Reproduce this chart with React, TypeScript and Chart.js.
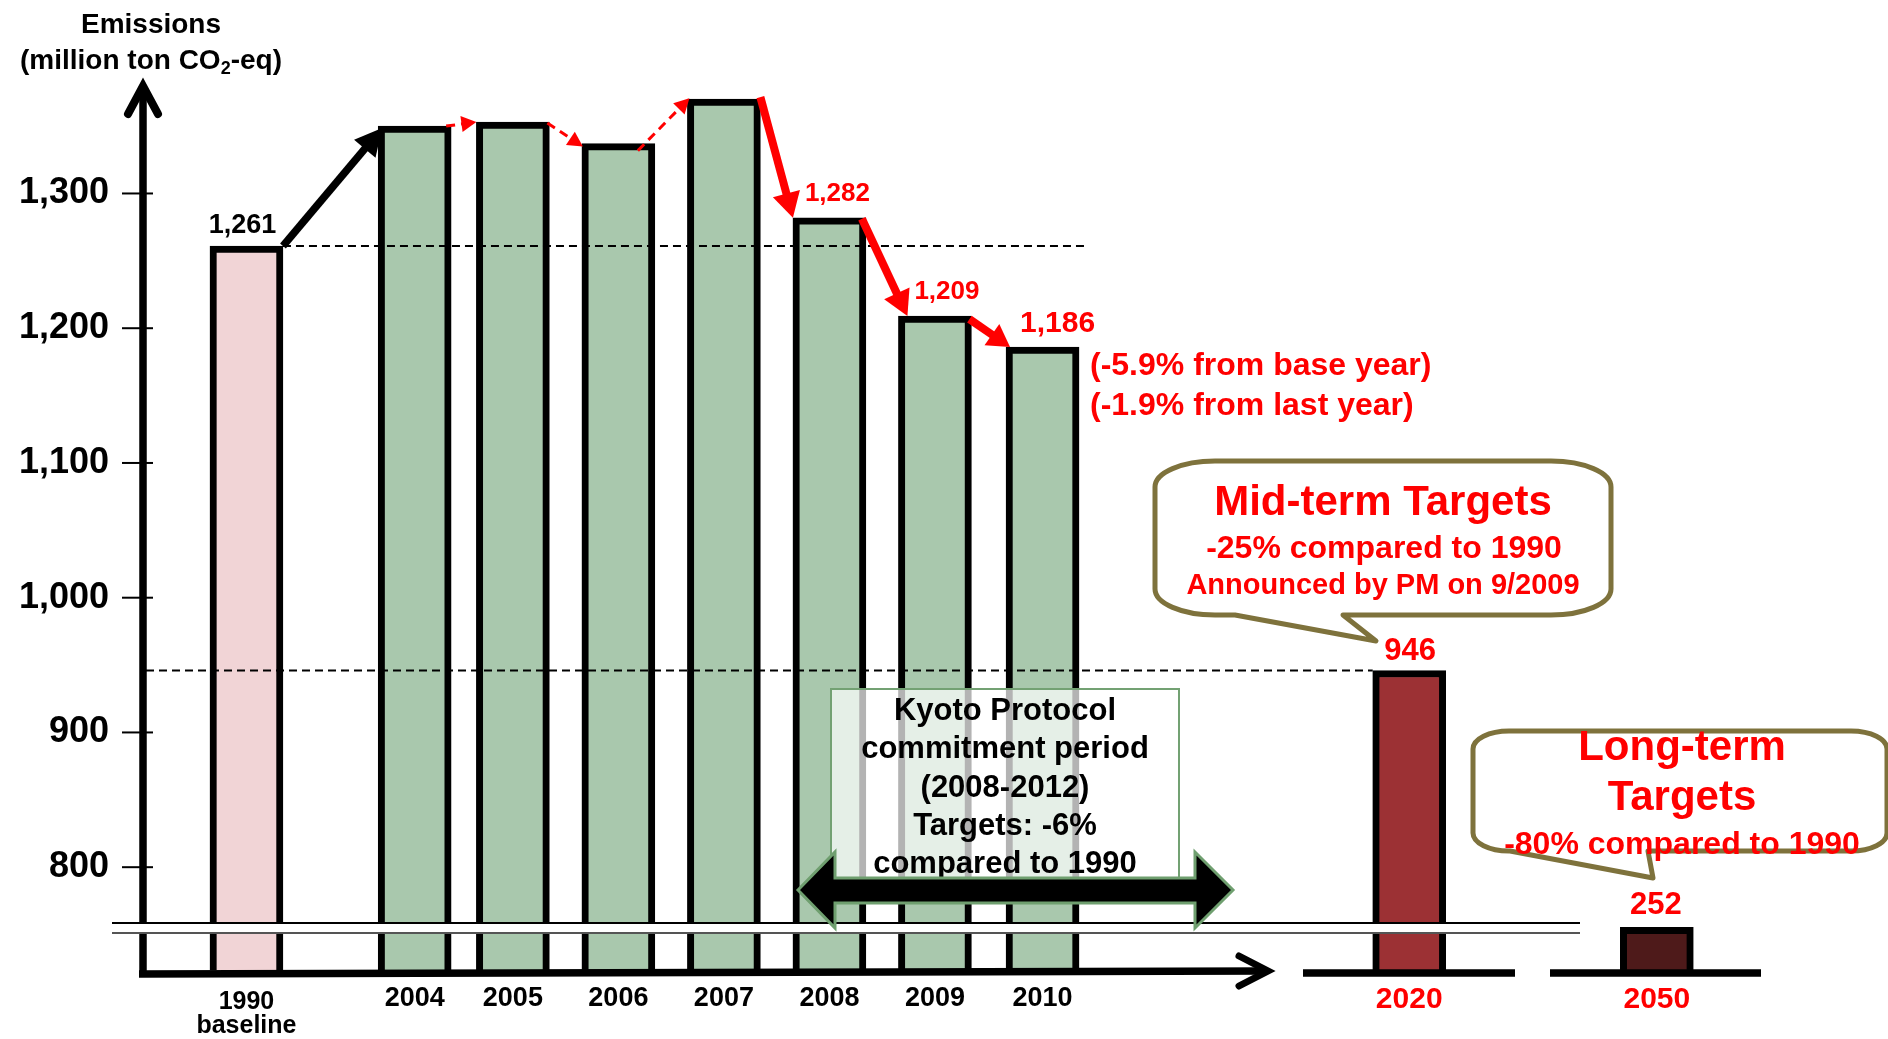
import React, { useEffect, useRef } from 'react';
import { Chart, registerables } from 'chart.js';

Chart.register(...registerables);

// ---------- data ----------
const categories = ['1990', '2004', '2005', '2006', '2007', '2008', '2009', '2010', '2020', '2050'];
const categoryLabels: (string | string[])[] = [
  ['1990', 'baseline'], '2004', '2005', '2006', '2007', '2008', '2009', '2010', '2020', '2050',
];
const emissions = [1261, 1350, 1353, 1337, 1370, 1282, 1209, 1186, 946, 252];
const yTicks = [800, 900, 1000, 1100, 1200, 1300];
const valueLabels = ['1,261', '', '', '', '', '1,282', '1,209', '1,186', '946', '252'];
const noteLines = ['(-5.9% from base year)', '(-1.9% from last year)'];
const midTermLines = ['Mid-term Targets', '-25% compared to 1990', 'Announced by PM on 9/2009'];
const longTermLines = ['Long-term', 'Targets', '-80% compared to 1990'];
const kyotoLines = ['Kyoto Protocol', 'commitment period', '(2008-2012)', 'Targets: -6%', 'compared to 1990'];

// ---------- layout / style ----------
const W = 1888;
const H = 1039;
const xSlots = [1.0, 2.61, 3.55, 4.56, 5.57, 6.58, 7.59, 8.62, 12.13, 14.5];
const X_MAX = 16.33;
const Y_MIN = 723.7;
const Y_MAX = 1380.5;
const BELOW_BREAK_SCALE = 0.126; // values under the axis break are compressed
const plotValue = (v: number) => (v < 700 ? Y_MIN + v * BELOW_BREAK_SCALE : v);

const RED = '#FF0000';
const PINK = '#F1D4D6';
const GREEN = '#A9C8AD';
const barColors = [PINK, GREEN, GREEN, GREEN, GREEN, GREEN, GREEN, GREEN, '#9C3134', '#4E1A1A'];
const OLIVE = '#7E723C';
const FONT = '"Liberation Sans", Arial, Helvetica, sans-serif';
const f = (size: number) => `bold ${size}px ${FONT}`;

function txt(ctx: CanvasRenderingContext2D, s: string, x: number, y: number, size: number, color: string, align: CanvasTextAlign = 'center') {
  ctx.font = f(size);
  ctx.fillStyle = color;
  ctx.textAlign = align;
  ctx.textBaseline = 'middle';
  ctx.fillText(s, x, y);
}

function arrow(ctx: CanvasRenderingContext2D, x1: number, y1: number, x2: number, y2: number, color: string, lw: number, hl: number, hw: number, dash?: number[]) {
  const a = Math.atan2(y2 - y1, x2 - x1);
  const bx = x2 - hl * Math.cos(a);
  const by = y2 - hl * Math.sin(a);
  ctx.save();
  ctx.strokeStyle = color;
  ctx.lineWidth = lw;
  ctx.lineCap = 'butt';
  if (dash) ctx.setLineDash(dash);
  ctx.beginPath();
  ctx.moveTo(x1, y1);
  ctx.lineTo(bx + 2 * Math.cos(a), by + 2 * Math.sin(a));
  ctx.stroke();
  ctx.setLineDash([]);
  ctx.fillStyle = color;
  ctx.beginPath();
  ctx.moveTo(x2, y2);
  ctx.lineTo(bx + hw * Math.sin(a), by - hw * Math.cos(a));
  ctx.lineTo(bx - hw * Math.sin(a), by + hw * Math.cos(a));
  ctx.closePath();
  ctx.fill();
  ctx.restore();
}

function callout(ctx: CanvasRenderingContext2D, L: number, T: number, R: number, B: number, rx: number, ry: number, tailL: number, tailR: number, tipX: number, tipY: number) {
  ctx.save();
  ctx.beginPath();
  ctx.moveTo(L + rx, T);
  ctx.lineTo(R - rx, T);
  ctx.ellipse(R - rx, T + ry, rx, ry, 0, -Math.PI / 2, 0);
  ctx.lineTo(R, B - ry);
  ctx.ellipse(R - rx, B - ry, rx, ry, 0, 0, Math.PI / 2);
  ctx.lineTo(tailR, B);
  ctx.lineTo(tipX, tipY);
  ctx.lineTo(tailL, B);
  ctx.lineTo(L + rx, B);
  ctx.ellipse(L + rx, B - ry, rx, ry, 0, Math.PI / 2, Math.PI);
  ctx.lineTo(L, T + ry);
  ctx.ellipse(L + rx, T + ry, rx, ry, 0, Math.PI, Math.PI * 1.5);
  ctx.closePath();
  ctx.fillStyle = '#FFFFFF';
  ctx.fill();
  ctx.strokeStyle = OLIVE;
  ctx.lineWidth = 5;
  ctx.lineJoin = 'round';
  ctx.stroke();
  ctx.restore();
}

const annotationPlugin = {
  id: 'annotations',
  afterDatasetsDraw(chart: any) {
    const ctx: CanvasRenderingContext2D = chart.ctx;
    const ys = chart.scales.y;
    const meta = chart.getDatasetMeta(0);
    const b = meta.data.map((el: any) => {
      const p = el.getProps(['x', 'y', 'width'], true);
      return { x: p.x, y: p.y, l: p.x - p.width / 2, r: p.x + p.width / 2 };
    });

    ctx.save();
    // dashed reference lines
    ctx.strokeStyle = '#000';
    ctx.lineWidth = 2;
    ctx.setLineDash([8, 5]);
    const y1990 = ys.getPixelForValue(emissions[0]);
    ctx.beginPath();
    ctx.moveTo(b[0].r, y1990);
    ctx.lineTo(1086, y1990);
    ctx.stroke();
    const y2020 = ys.getPixelForValue(emissions[8]);
    ctx.beginPath();
    ctx.moveTo(146, y2020);
    ctx.lineTo(b[8].l, y2020);
    ctx.stroke();
    ctx.setLineDash([]);
    ctx.restore();

    // trend arrows
    arrow(ctx, b[0].r, b[0].y, b[1].l + 4, b[1].y + 2, '#000', 7.5, 27, 14);
    arrow(ctx, b[1].r - 5, b[1].y, b[2].l, b[2].y, RED, 3, 15, 8, [9, 6]);
    arrow(ctx, b[2].r - 2, b[2].y + 1, b[3].l + 1, b[3].y + 3, RED, 3, 15, 8, [9, 6]);
    arrow(ctx, b[3].r - 17, b[3].y + 7, b[4].l + 2, b[4].y - 1, RED, 3, 15, 8, [9, 6]);
    arrow(ctx, b[4].r, b[4].y - 2, b[5].l, b[5].y, RED, 8, 25, 14);
    arrow(ctx, b[5].r - 4, b[5].y + 1, b[6].l + 9, b[6].y, RED, 8, 25, 14);
    arrow(ctx, b[6].r - 2, b[6].y + 3, b[7].l + 4, b[7].y, RED, 8, 22, 13);

    // value labels
    const lab = [
      { i: 0, dx: -4, dy: 20, s: 27, c: '#000' },
      { i: 5, dx: 8, dy: 24, s: 26, c: RED },
      { i: 6, dx: 12, dy: 24, s: 26, c: RED },
      { i: 7, dx: 15, dy: 23, s: 30, c: RED },
      { i: 8, dx: 1, dy: 19, s: 31, c: RED },
      { i: 9, dx: -1, dy: 22, s: 31, c: RED },
    ];
    lab.forEach((o) => txt(ctx, valueLabels[o.i], b[o.i].x + o.dx, b[o.i].y - o.dy, o.s, o.c));

    // notes next to 2010
    txt(ctx, noteLines[0], 1090, 366, 32, RED, 'left');
    txt(ctx, noteLines[1], 1090, 406, 32, RED, 'left');

    // y axis line + arrow + ticks
    ctx.save();
    ctx.strokeStyle = '#000';
    ctx.lineWidth = 7.5;
    ctx.lineCap = 'butt';
    ctx.beginPath();
    ctx.moveTo(143, 88);
    ctx.lineTo(143, 977);
    ctx.stroke();
    ctx.lineCap = 'round';
    ctx.lineJoin = 'miter';
    ctx.lineWidth = 8;
    ctx.beginPath();
    ctx.moveTo(128, 114);
    ctx.lineTo(143, 86);
    ctx.lineTo(158, 114);
    ctx.stroke();
    ctx.lineWidth = 2;
    ctx.lineCap = 'butt';
    yTicks.forEach((v) => {
      const y = ys.getPixelForValue(v);
      ctx.beginPath();
      ctx.moveTo(122, y);
      ctx.lineTo(153, y);
      ctx.stroke();
    });
    // baseline + arrow
    ctx.lineWidth = 7.5;
    ctx.beginPath();
    ctx.moveTo(139, 974);
    ctx.lineTo(1266, 971);
    ctx.stroke();
    ctx.lineCap = 'round';
    ctx.lineWidth = 7;
    ctx.beginPath();
    ctx.moveTo(1239, 956);
    ctx.lineTo(1268, 971);
    ctx.lineTo(1239, 986);
    ctx.stroke();
    ctx.lineCap = 'butt';
    ctx.lineWidth = 7.5;
    ctx.beginPath();
    ctx.moveTo(1303, 973);
    ctx.lineTo(1515, 973);
    ctx.moveTo(1550, 973);
    ctx.lineTo(1761, 973);
    ctx.stroke();
    ctx.restore();

    // axis break band (interrupts the y axis and the bars)
    ctx.save();
    ctx.fillStyle = '#FFFFFF';
    ctx.fillRect(112, 923, 1580 - 112, 10);
    ctx.lineWidth = 2.2;
    ctx.strokeStyle = '#000';
    ctx.beginPath();
    ctx.moveTo(112, 923);
    ctx.lineTo(1580, 923);
    ctx.stroke();
    ctx.strokeStyle = '#555';
    ctx.lineWidth = 2;
    ctx.beginPath();
    ctx.moveTo(112, 933);
    ctx.lineTo(1580, 933);
    ctx.stroke();
    ctx.restore();

    // Kyoto box
    ctx.save();
    ctx.fillStyle = 'rgba(255,255,255,0.7)';
    ctx.fillRect(831, 689, 1179 - 831, 890 - 689);
    ctx.strokeStyle = '#73A173';
    ctx.lineWidth = 2;
    ctx.strokeRect(831, 689, 1179 - 831, 890 - 689);
    ctx.restore();
    const ky = [711, 749, 788, 826, 864];
    kyotoLines.forEach((s, i) => txt(ctx, s, 1005, ky[i], 31, '#000'));

    // double arrow
    ctx.save();
    ctx.beginPath();
    ctx.moveTo(798, 890);
    ctx.lineTo(835, 852);
    ctx.lineTo(835, 878);
    ctx.lineTo(1195, 878);
    ctx.lineTo(1195, 852);
    ctx.lineTo(1233, 890);
    ctx.lineTo(1195, 928);
    ctx.lineTo(1195, 903);
    ctx.lineTo(835, 903);
    ctx.lineTo(835, 928);
    ctx.closePath();
    ctx.fillStyle = '#000';
    ctx.fill();
    ctx.strokeStyle = '#6F9F6F';
    ctx.lineWidth = 3;
    ctx.stroke();
    ctx.restore();

    // callouts
    callout(ctx, 1155, 461, 1611, 615, 60, 26, 1235, 1343, 1376, 641);
    txt(ctx, midTermLines[0], 1383, 503, 42, RED);
    txt(ctx, midTermLines[1], 1384, 549, 32, RED);
    txt(ctx, midTermLines[2], 1383, 586, 29, RED);

    callout(ctx, 1473, 731, 1887, 851, 36, 18, 1510, 1648, 1653, 878);
    txt(ctx, longTermLines[0], 1682, 748, 42, RED);
    txt(ctx, longTermLines[1], 1682, 798, 42, RED);
    txt(ctx, longTermLines[2], 1682, 845, 32, RED);

    // axis title
    txt(ctx, 'Emissions', 151, 25, 28, '#000');
    ctx.save();
    const p1 = '(million ton CO';
    const p2 = '2';
    const p3 = '-eq)';
    ctx.font = f(28);
    const w1 = ctx.measureText(p1).width;
    const w3 = ctx.measureText(p3).width;
    ctx.font = f(18);
    const w2 = ctx.measureText(p2).width;
    const start = 151 - (w1 + w2 + w3) / 2;
    txt(ctx, p1, start, 61, 28, '#000', 'left');
    txt(ctx, p2, start + w1, 69, 18, '#000', 'left');
    txt(ctx, p3, start + w1 + w2, 61, 28, '#000', 'left');
    ctx.restore();
  },
};

export default function App() {
  const ref = useRef<HTMLCanvasElement | null>(null);

  useEffect(() => {
    document.body.style.margin = '0';
    document.body.style.overflow = 'hidden';
    if (!ref.current) return;
    const chart = new Chart(ref.current, {
      type: 'bar',
      data: {
        labels: categories,
        datasets: [
          {
            data: categories.map((_c, i) => ({ x: xSlots[i], y: plotValue(emissions[i]) })) as any,
            backgroundColor: barColors,
            borderColor: '#000000',
            borderWidth: 7,
            borderSkipped: 'bottom',
            barThickness: 73,
          },
        ],
      },
      options: {
        responsive: false,
        animation: false,
        events: [],
        layout: { padding: { top: 85, right: 40, bottom: 0, left: 0 } },
        plugins: { legend: { display: false }, tooltip: { enabled: false } },
        scales: {
          x: {
            type: 'linear',
            min: 0,
            max: X_MAX,
            offset: false,
            grid: { display: false, drawTicks: false },
            border: { display: false },
            afterBuildTicks: (s: any) => {
              s.ticks = xSlots.map((v) => ({ value: v }));
            },
            afterFit: (s: any) => {
              s.height = H - 970;
            },
            ticks: {
              autoSkip: false,
              maxRotation: 0,
              minRotation: 0,
              padding: 20,
              callback: (_v: any, i: number) => categoryLabels[i],
              color: (c: any) => (c.index >= 8 ? RED : '#000000'),
              font: (c: any) =>
                c.index === 0
                  ? { family: FONT, size: 25, weight: 'bold', lineHeight: '24px' }
                  : c.index >= 8
                  ? { family: FONT, size: 30, weight: 'bold', lineHeight: '20px' }
                  : { family: FONT, size: 27, weight: 'bold', lineHeight: '18px' },
            },
          } as any,
          y: {
            type: 'linear',
            min: Y_MIN,
            max: Y_MAX,
            beginAtZero: false,
            grid: { display: false, drawTicks: false },
            border: { display: false },
            afterBuildTicks: (s: any) => {
              s.ticks = yTicks.map((v) => ({ value: v }));
            },
            afterFit: (s: any) => {
              s.width = 142;
            },
            ticks: {
              padding: 33,
              color: '#000000',
              font: { family: FONT, size: 36, weight: 'bold' },
              callback: (v: any) => Number(v).toLocaleString('en-US'),
            },
          } as any,
        },
      },
      plugins: [annotationPlugin],
    });
    return () => chart.destroy();
  }, []);

  return (
    <div style={{ position: 'absolute', left: 0, top: 0, width: W, height: H }}>
      <canvas ref={ref} width={W} height={H} style={{ display: 'block', width: W, height: H }} />
    </div>
  );
}
